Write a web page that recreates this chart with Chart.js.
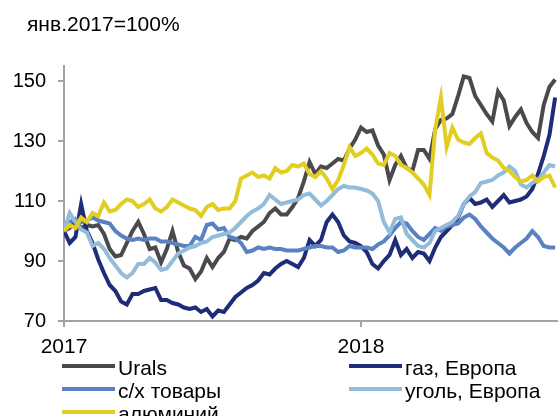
<!DOCTYPE html>
<html>
<head>
<meta charset="utf-8">
<script src="https://cdn.jsdelivr.net/npm/chart.js@4.4.1/dist/chart.umd.min.js"></script>
<style>
  html, body { margin: 0; padding: 0; background: #fff; }
  #wrap { position: relative; width: 558px; height: 416px; overflow: hidden;
          font-family: "Liberation Sans", Arial, sans-serif; color: #000; }
  #chart { position: absolute; left: 0; top: 0; }
  .title { position: absolute; left: 27px; top: 13px; font-size: 21px; line-height: 21px; white-space: nowrap; }
  .leg { position: absolute; font-size: 21px; line-height: 21px; white-space: nowrap; }
  .swatch { position: absolute; width: 53px; height: 4px; }
</style>
</head>
<body>
<div id="wrap">
  <canvas id="chart" width="558" height="416"></canvas>
  <div class="title">янв.2017=100%</div>
  <div id="legend"></div>
</div>
<script>
// weekly values, Jan 2017 = 100
const seriesNames = ['Urals', 'газ, Европа', 'с/х товары', 'уголь, Европа', 'алюминий'];

const urals = [100,101,103,101,102,101.5,102,99,94,91.5,
  92,96,100,103,99,94,94.5,89.5,94,100,
  93,88.5,87.5,84,86.5,91,88,91,93,97.5,
  97,98,97.5,100,101.5,103,106,107.5,105.5,105.5,
  108,111,116.5,123,119,121.5,121,122.5,124,123.5,
  127.5,130.5,134.5,133,133.5,128.5,125.5,117,122,125,
  121,120,127,127,124,134,137,137.5,139,145,
  151.5,151,145,142,139,136.5,146.5,143.5,135,138,
  140.5,136,133,131,142,148,150.5];

const gasEurope = [100,96,98,109,100,96,90.5,86,82,80,
  76.5,75.5,79,79,80,80.5,81,77,77,76,
  75.5,74.5,74,74.5,73,74,71.5,73.5,73,75.5,
  78,79.5,81,82,83.5,86,85.5,87.5,89,90,
  89,88,91,97,95,97,103,105.5,103,98.5,
  96.5,96,95,93,89,87.5,90,92,97,92,
  94,91,93,92.5,90,94.5,98,100,102,104.5,
  109,111,109,109.5,110.5,108,110,112,109.5,110,
  110.5,111.5,114,119,125,132,144.5];

const agri = [100,103,104,103,103.5,104.5,103.5,103,102.5,100,
  98.5,97.5,97,97.5,97,97.5,97.5,96.5,96.5,96,
  95.5,95,95,98,97,102,102.5,100.5,101,98,
  97.5,96,93,93.5,94.5,94,94.5,94,94,93.5,
  93.5,93.5,94,94.5,95,95,94.5,94.5,93,93.5,
  95,94.5,94.5,94.5,94,95.5,96.5,98.5,101,103,
  102.5,100,98,97,99,101,100,101.5,102,102.5,
  104.5,105.5,104,101.5,99.5,97.5,96,94.5,92.5,94.5,
  96,97.5,100,98,95,94.5,94.5];

const coalEurope = [100,106,103,100.5,99.5,95,96,94,91,88.5,
  86,84.5,86,89,89,91,89.5,87,87.5,90,
  92.5,93.5,94.5,95,96,96.5,98,98.5,99,99.5,
  101,103,105,106.5,107.5,109,112,110.5,109,109.5,
  110,110.5,112,112.5,110.5,108.5,110,112,114,115,
  114.5,114.5,114,113.5,112.5,110,103,99.5,104,104.5,
  99,97,95,94.5,96,100,101,102,103,105,
  109,111.5,113,116,116.5,117,118.5,119.5,121.5,120,
  115.5,114.5,116,117,119.5,122,121.5];

const aluminium = [100,102,101,104.5,103,106,105,109.5,106.5,107,
  109,110.5,110,108,109,110.5,107.5,106.5,108,110.5,
  109.5,108.5,107.5,107,105,108,109,107,107.5,107.5,
  110,117.5,118.5,119.5,118,118.5,117.5,121,119.5,120,
  122,121.5,122.5,119,118,120,117.5,114,117,122,
  128,125,126,127.5,125.5,122.5,122,126,125,122,
  121,119.5,117.5,115.5,112,134,144.5,128,134.5,130.5,
  129.5,129,131,132.5,126,124.5,123.5,121,120,118,
  116.5,117,118.5,116.5,118,118.5,114.5];

const xTicks = [0, 52];
const xTickLabels = ['2017', '2018'];
const yTicks = [70, 90, 110, 130, 150];

const seriesValues = [urals, gasEurope, agri, coalEurope, aluminium];
const colors = ['#4b494d', '#1f2d78', '#5a82c2', '#92bcda', '#e2ce22'];

const weeks = urals.map((_, i) => i);
const fontFamily = '"Liberation Sans", Arial, sans-serif';
const axisColor = '#a3a3a3';

const datasets = seriesNames.map((name, i) => ({
  label: name,
  data: seriesValues[i],
  borderColor: colors[i],
  backgroundColor: colors[i],
  borderWidth: 4,
  pointRadius: 0,
  tension: 0,
  fill: false,
  order: seriesNames.length - i
}));

const ctx = document.getElementById('chart').getContext('2d');
new Chart(ctx, {
  type: 'line',
  data: { labels: weeks, datasets: datasets },
  options: {
    responsive: false,
    animation: false,
    layout: { padding: { top: 66, right: 0, left: 0, bottom: 0 } },
    plugins: { legend: { display: false }, tooltip: { enabled: false } },
    scales: {
      x: {
        type: 'linear',
        min: 0,
        max: 86.5,
        afterFit: s => { s.height = 95; },
        afterBuildTicks: s => { s.ticks = xTicks.map(v => ({ value: v })); },
        ticks: {
          callback: v => xTickLabels[xTicks.indexOf(v)],
          font: { size: 21, family: fontFamily },
          color: '#000',
          padding: 8,
          maxRotation: 0,
          autoSkip: false
        },
        grid: { drawOnChartArea: false, drawTicks: true, tickLength: 6, color: axisColor, lineWidth: 2 },
        border: { color: axisColor, width: 2 }
      },
      y: {
        min: 70,
        max: 155,
        afterFit: s => { s.width = 64; },
        afterBuildTicks: s => { s.ticks = yTicks.map(v => ({ value: v })); },
        ticks: {
          font: { size: 20, family: fontFamily },
          color: '#000',
          padding: 12
        },
        grid: { drawOnChartArea: false, drawTicks: true, tickLength: 6, color: axisColor, lineWidth: 2 },
        border: { color: axisColor, width: 2 }
      }
    }
  }
});

// legend in two columns, row by row
const legend = document.getElementById('legend');
seriesNames.forEach((name, i) => {
  const col = i % 2, row = Math.floor(i / 2);
  const lineX = col ? 349 : 62;
  const lineY = 364 + row * 23;
  const sw = document.createElement('div');
  sw.className = 'swatch';
  sw.style.left = lineX + 'px';
  sw.style.top = lineY + 'px';
  sw.style.background = colors[i];
  legend.appendChild(sw);
  const t = document.createElement('div');
  t.className = 'leg';
  t.style.left = (lineX + 56) + 'px';
  t.style.top = (lineY - 7) + 'px';
  t.textContent = name;
  legend.appendChild(t);
});
</script>
</body>
</html>
